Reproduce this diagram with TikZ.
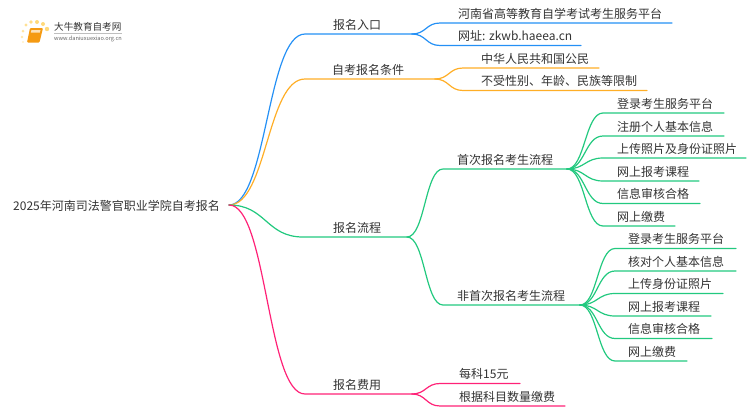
\documentclass[tikz,border=0pt]{standalone}
\usepackage{fontspec}
\usetikzlibrary{calc}
\setmainfont{Noto Sans CJK SC}
\definecolor{entryc}{HTML}{2490F5}
\definecolor{condc}{HTML}{FFAE26}
\definecolor{flowc}{HTML}{22C97F}
\definecolor{feec}{HTML}{FF2277}
\definecolor{textc}{HTML}{333333}
\definecolor{logoc}{HTML}{F59A12}
\definecolor{dotc}{HTML}{FFD97A}
\tikzset{
  lbl/.style={anchor=west,inner sep=0pt,text=textc,font=\fontsize{12}{14}\selectfont},
  link/.style={line width=1.2pt,line cap=round,line join=round},
  swoop/.style={to path={let \p1=(\tikztostart),\p2=(\tikztotarget) in .. controls ({(\x1+\x2)/2},\y1) and ({(\x1+\x2)/2},\y2) .. (\tikztotarget)}},
}
\begin{document}
\begin{tikzpicture}[x=1pt,y=-1pt]
\useasboundingbox (0,0) rectangle (750,410);
\coordinate (root) at (229,205);
\node[lbl] (title) at (13,205.5) {2025年河南司法警官职业学院自考报名};
% main branches: name/colour/y/line start/line end/text x/text
\foreach \b/\c/\y/\s/\e/\tx/\t in {entry/entryc/34/305/412/333/报名入口,cond/condc/79/305/435/332/自考报名条件,flow/flowc/237/303/407/333/报名流程,fee/feec/394/305/412/333/报名费用}{
  \coordinate (\b a) at (\s,\y);
  \coordinate (\b z) at (\e,\y);
  \draw[link,\c] (root) to[swoop] (\b a) -- (\b z);
  \node[lbl] (\b t) at (\tx,\y-9) {\t};
}
% second level under the flow branch
\foreach \b/\y/\e/\t in {first/169/567/首次报名考生流程,again/305/580/非首次报名考生流程}{
  \coordinate (\b a) at (443,\y);
  \coordinate (\b z) at (\e,\y);
  \draw[link,flowc] (flowz) to[swoop] (\b a) -- (\b z);
  \node[lbl] (\b t) at (457,\y-9) {\t};
}
% leaves: parent/colour/y/line start/line end/text x/text
\foreach \up/\c/\y/\s/\e/\tx/\t in {
  entryz/entryc/23/440/672/458/河南省高等教育自学考试考生服务平台,
  entryz/entryc/45.5/440/581/458/网址: zkwb.haeea.cn,
  condz/condc/68/463/599/481/中华人民共和国公民,
  condz/condc/90.5/463/647/481/不受性别、年龄、民族等限制,
  firstz/flowc/113/603/724/617/登录考生服务平台,
  firstz/flowc/136/603/724/617/注册个人基本信息,
  firstz/flowc/158/603/746/617/上传照片及身份证照片,
  firstz/flowc/181/603/699/617/网上报考课程,
  firstz/flowc/203.5/603/700/617/信息审核合格,
  firstz/flowc/226/603/675/617/网上缴费,
  againz/flowc/248.5/615/736/628/登录考生服务平台,
  againz/flowc/271/615/736/628/核对个人基本信息,
  againz/flowc/293.5/615/723/628/上传身份证照片,
  againz/flowc/316/615/711/628/网上报考课程,
  againz/flowc/338.5/615/712/628/信息审核合格,
  againz/flowc/361/615/687/628/网上缴费,
  feez/feec/383.5/440/520/459/每科15元,
  feez/feec/406/440/565/459/根据科目数量缴费}{
  \coordinate (s) at (\s,\y);
  \coordinate (e) at (\e,\y);
  \draw[link,\c] (\up) to[swoop] (s) -- (e);
  \node[lbl] at (\tx,\y-9.5) {\t};
}
% logo
\foreach \x/\y/\r/\o in {23/31/1.5/.7,26/25/1.7/.8,31/22/1.9/.9,37/22/2/1,43/24/2/1,47/29/2.2/1,22/37/1.3/.6,23/42/1.1/.4}{
  \fill[dotc,opacity=\o] (\x,\y) circle(\r);
}
\fill[logoc,rounded corners=1pt] (30,28) -- (43,28) -- (39.5,42.5) -- (27,42.5) -- cycle;
\fill[white!70!logoc] (31.5,30) -- (40.5,30) -- (39.8,32.5) -- (30.8,32.5) -- cycle;
\node[inner sep=0pt,anchor=west,text=textc,font=\fontsize{9.6}{11}\selectfont] (logotext) at (54,27) {大牛教育自考网};
\draw[black!25,line width=.5pt] (54,33) -- (122,33);
\node[inner sep=0pt,anchor=west,text=black!60,font=\fontsize{5.6}{7}\selectfont] (logourl) at (54,38.5) {www.daniuxuexiao.org.cn};
\end{tikzpicture}
\end{document}
